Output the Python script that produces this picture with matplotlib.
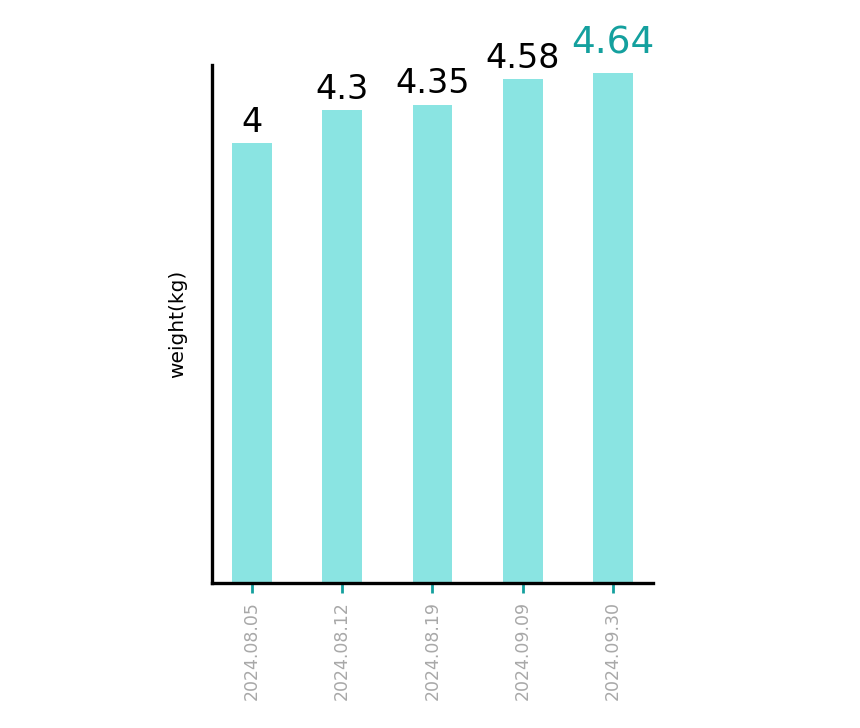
import numpy as np
import matplotlib
matplotlib.use("Agg")
import matplotlib.pyplot as plt

dates = ["2024.08.05", "2024.08.12", "2024.08.19", "2024.09.09", "2024.09.30"]
weights = [4, 4.3, 4.35, 4.58, 4.64]

bar_color = "#8ae4e2"
accent = "#14a09e"

fig = plt.figure(figsize=(8.6, 7.28), dpi=100)
ax = fig.add_axes([0.2465, 0.1992, 0.5128, 0.7115])

x = np.arange(len(dates))
ax.bar(x, weights, width=0.443, color=bar_color)

# value labels, last one highlighted
for i, w in enumerate(weights):
    last = i == len(weights) - 1
    ax.annotate(f"{w:g}", (i, w), xytext=(0, 8 if last else 3),
                textcoords="offset points", ha="center", va="bottom",
                fontsize=27 if last else 24,
                color=accent if last else "black")

ax.set_xlim(-0.443, len(dates) - 1 + 0.443)
ax.set_ylim(0, 4.71)

ax.set_xticks(x)
ax.set_xticklabels(dates, rotation=90, color="#a8a8a8", fontsize=12.5)
ax.tick_params(axis="x", length=7, width=2, color=accent, pad=6)
ax.set_yticks([])

for side in ["top", "right"]:
    ax.spines[side].set_visible(False)
for side in ["left", "bottom"]:
    ax.spines[side].set_linewidth(2.4)
    ax.spines[side].set_color("black")

ax.set_ylabel("weight(kg)", fontsize=14.5, labelpad=18)

fig.savefig("out.png", dpi=100)
